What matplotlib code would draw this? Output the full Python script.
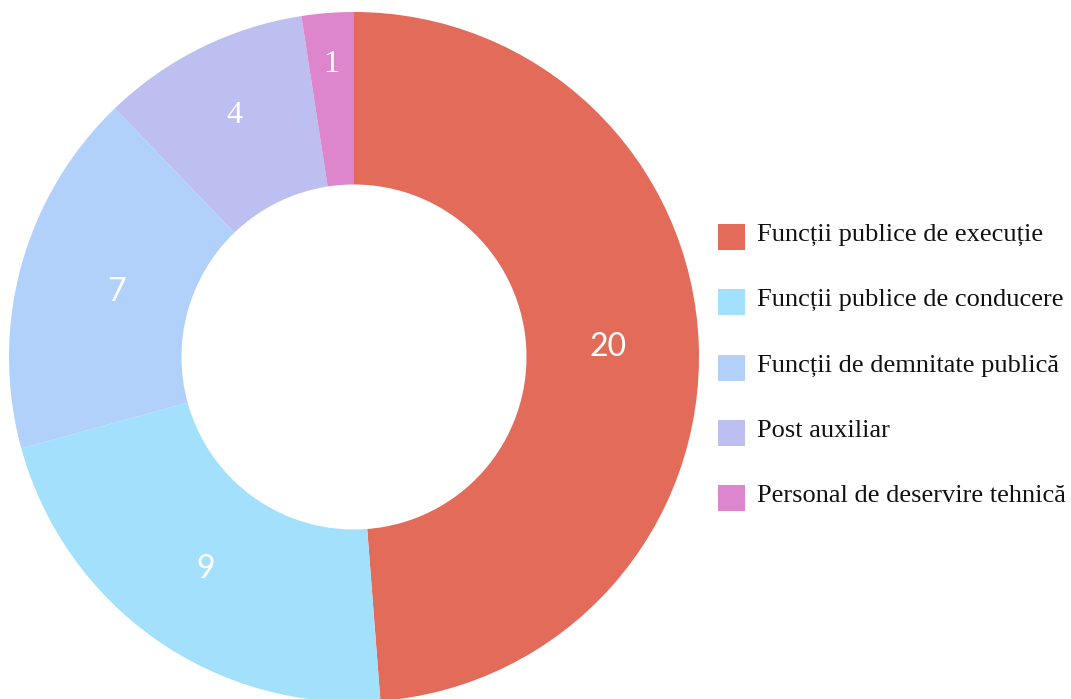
import numpy as np
import matplotlib
matplotlib.use('Agg')
import matplotlib.pyplot as plt
from matplotlib.patches import Rectangle

categories = ['Funcții publice de execuție',
              'Funcții publice de conducere',
              'Funcții de demnitate publică',
              'Post auxiliar',
              'Personal de deservire tehnică']
values = [20, 9, 7, 4, 1]
colors = ['#E36B5A', '#A3E0FB', '#B1D1FB', '#BDBFF1', '#DD86CE']
# the small slices' numbers show up in a serif face in the original
label_fonts = ['Lato', 'Lato', 'Lato', 'Liberation Serif', 'Liberation Serif']
# how far out along the ring each number sits (fraction of outer radius)
label_r = [0.737, 0.75, 0.715, 0.78, 0.85]

W, H = 1071, 699
fig = plt.figure(figsize=(W / 100, H / 100), dpi=100)
ax = fig.add_axes([0, 0, 1, 1])

cx, cy, r = 354, 342, 345
wedges, _ = ax.pie(values, colors=colors, startangle=90, counterclock=False,
                   center=(cx, cy), radius=r, frame=True,
                   wedgeprops=dict(width=r * 0.5, linewidth=0))
ax.set_xlim(0, W)
ax.set_ylim(0, H)
ax.set_aspect('equal')
ax.axis('off')

# value labels inside the ring
for w, v, fam, fr in zip(wedges, values, label_fonts, label_r):
    ang = np.deg2rad((w.theta1 + w.theta2) / 2)
    rr = r * fr
    ax.text(cx + rr * np.cos(ang), cy + rr * np.sin(ang), str(v),
            ha='center', va='center', color='white', fontsize=23,
            family=fam)

# legend drawn by hand
for i, (lab, c) in enumerate(zip(categories, colors)):
    yc = H - (237 + i * 65.3)
    ax.add_patch(Rectangle((718, yc - 13), 27, 26, facecolor=c, edgecolor='none'))
    ax.text(757, yc + 2, lab, ha='left', va='center', fontsize=19,
            family='Liberation Serif', color='#111111')

fig.savefig('out.png', dpi=100)
